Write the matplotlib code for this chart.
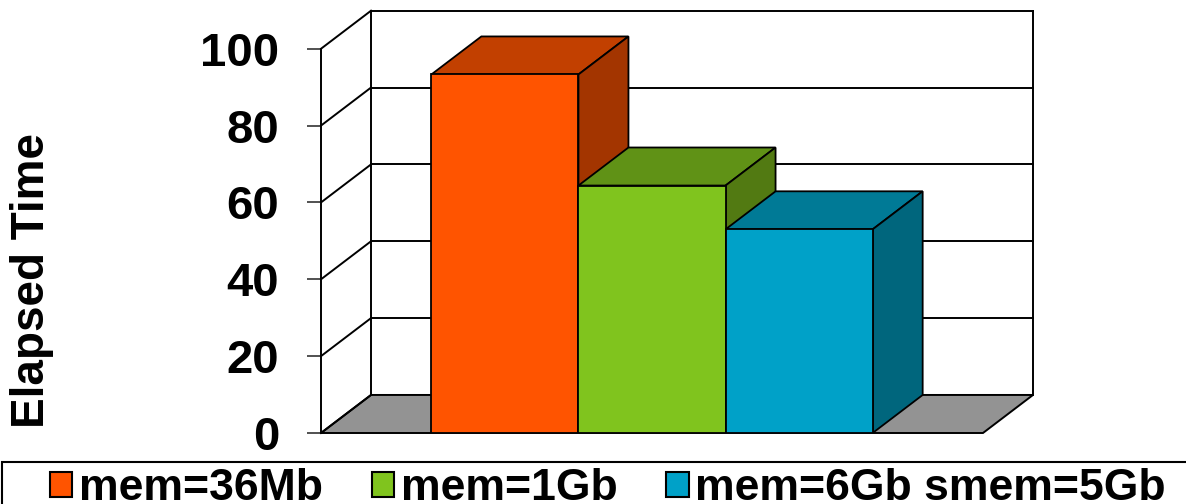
import matplotlib
matplotlib.use("Agg")
import matplotlib.pyplot as plt
from matplotlib.patches import Polygon, Rectangle, Patch

plt.rcParams["font.family"] = ["Liberation Sans", "DejaVu Sans"]
plt.rcParams["font.weight"] = "bold"

# data
categories = ["mem=36Mb", "mem=1Gb", "mem=6Gb smem=5Gb"]
elapsed = [93.3, 64.4, 53.0]
y_ticks = [0, 20, 40, 60, 80, 100]

front_colors = ["#FF5400", "#80C41E", "#00A1C8"]
top_colors = ["#C24000", "#609216", "#007A96"]
side_colors = ["#A33500", "#527A12", "#00667D"]

# fake 3d depth, in data units
DX = 0.34
DY = 9.9
X_LO, X_HI = -1.25, 3.25
Y_TOP = 100

fig = plt.figure(figsize=(11.86, 5.04), dpi=100)
ax = fig.add_axes([321 / 1186, 71 / 504, 712 / 1186, 422.3 / 504])
ax.set_xlim(X_LO, X_HI + DX)
ax.set_ylim(0, Y_TOP + DY)

for s in ["top", "right", "bottom"]:
    ax.spines[s].set_visible(False)
ax.spines["left"].set_bounds(0, Y_TOP)
ax.spines["left"].set_linewidth(1.4)
ax.set_xticks([])
ax.set_yticks(y_ticks)
ax.set_yticklabels([str(t) for t in y_ticks], fontsize=34, fontweight="bold")
ax.tick_params(axis="y", length=10, width=1.2, color="#333333", pad=20)

edge = dict(color="black", lw=1.4, zorder=1, clip_on=False)

# floor
floor = Polygon([(X_LO, 0), (X_HI, 0), (X_HI + DX, DY), (X_LO + DX, DY)],
                closed=True, facecolor="#939393", edgecolor="black",
                lw=1.4, zorder=1, clip_on=False)
ax.add_patch(floor)

# back wall and left wall grid
ax.plot([X_LO + DX, X_LO + DX], [DY, Y_TOP + DY], **edge)
ax.plot([X_HI + DX, X_HI + DX], [DY, Y_TOP + DY], **edge)
for t in y_ticks:
    ax.plot([X_LO, X_LO + DX], [t, t + DY], **edge)
    if t > 0:
        ax.plot([X_LO + DX, X_HI + DX], [t + DY, t + DY], **edge)

# bars: top, side, then front face
for i, v in enumerate(elapsed):
    x0, x1 = i - 0.5, i + 0.5
    ax.add_patch(Polygon([(x0, v), (x1, v), (x1 + DX, v + DY), (x0 + DX, v + DY)],
                         closed=True, facecolor=top_colors[i], edgecolor="black",
                         lw=1.3, zorder=2 + i * 0.1))
    ax.add_patch(Polygon([(x1, 0), (x1, v), (x1 + DX, v + DY), (x1 + DX, DY)],
                         closed=True, facecolor=side_colors[i], edgecolor="black",
                         lw=1.3, zorder=2 + i * 0.1))
    ax.bar(i, v, width=1.0, color=front_colors[i], edgecolor="black",
           linewidth=1.3, zorder=2.05 + i * 0.1)

fig.text(32 / 1186, 1 - 280 / 504, "Elapsed Time", rotation=90,
         fontsize=33, fontweight="bold", ha="center", va="center")

# legend box running off the bottom edge
fig.add_artist(Rectangle((2 / 1186, -0.2), 1.2, 0.2 + 42 / 504,
                         transform=fig.transFigure, fill=False,
                         edgecolor="black", lw=1.5))
handles = [Patch(facecolor=c, edgecolor="black", lw=1.5) for c in front_colors]
fig.legend(handles, categories, ncol=3, loc="center left",
           bbox_to_anchor=(50 / 1186, 15 / 504), frameon=False,
           prop=dict(size=32, weight="bold"), handlelength=0.5,
           handleheight=0.47, handletextpad=0.15, columnspacing=1.1,
           borderpad=0, borderaxespad=0)

fig.savefig("out.png", dpi=100)
